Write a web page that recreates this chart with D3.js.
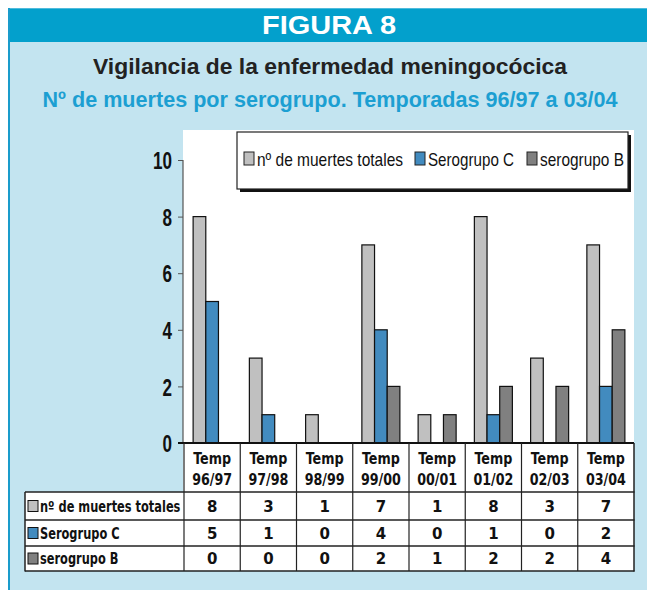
<!DOCTYPE html>
<html><head><meta charset="utf-8">
<script src="https://cdn.jsdelivr.net/npm/d3@7"></script>
<style>body{margin:0;background:#fff}</style></head>
<body><svg id="c" width="647" height="590"></svg>
<script>
const categories = ["Temp 96/97","Temp 97/98","Temp 98/99","Temp 99/00","Temp 00/01","Temp 01/02","Temp 02/03","Temp 03/04"];
const seriesNames = ["nº de muertes totales","Serogrupo C","serogrupo B"];
const totales = [8,3,1,7,1,8,3,7];
const serogrupoC = [5,1,0,4,0,1,0,2];
const serogrupoB = [0,0,0,2,1,2,2,4];
const yTicks = [0,2,4,6,8,10];
const colors = ["#c0c0c0","#428bbf","#808080"];
const seriesValues = [totales, serogrupoC, serogrupoB];

const svg = d3.select("#c");
const condensed = "'Liberation Sans',Arial,sans-serif";
const tableFont = "'DejaVu Sans',Verdana,sans-serif";

// Frame
svg.append("rect").attr("x",9).attr("y",8).attr("width",640).attr("height",590).attr("fill","#c3e4f0");
svg.append("rect").attr("x",9).attr("y",8).attr("width",640).attr("height",34).attr("fill","#03a0cc");
svg.append("line").attr("x1",9).attr("x2",647).attr("y1",8.5).attr("y2",8.5).attr("stroke","#4fbbdc").attr("stroke-width",1);
svg.append("line").attr("x1",9).attr("x2",9).attr("y1",8).attr("y2",590).attr("stroke","#1a9ccb").attr("stroke-width",2);

svg.append("text").attr("x",329).attr("y",34).attr("text-anchor","middle")
  .attr("font-family","'Liberation Sans',Arial,sans-serif").attr("font-weight","bold").attr("font-size",25)
  .attr("fill","#fff").attr("textLength",134).attr("lengthAdjust","spacingAndGlyphs").text("FIGURA 8");
svg.append("text").attr("x",330).attr("y",74).attr("text-anchor","middle")
  .attr("font-family",condensed).attr("font-weight","bold").attr("font-size",22)
  .attr("fill","#222").attr("textLength",474).attr("lengthAdjust","spacingAndGlyphs").text("Vigilancia de la enfermedad meningocócica");
svg.append("text").attr("x",330).attr("y",107).attr("text-anchor","middle")
  .attr("font-family",condensed).attr("font-weight","bold").attr("font-size",22)
  .attr("fill","#1c9fd2").attr("textLength",575).attr("lengthAdjust","spacingAndGlyphs").text("Nº de muertes por serogrupo. Temporadas 96/97 a 03/04");

// Scales
const x = d3.scaleBand().domain(categories).range([184,634]).paddingInner(0).paddingOuter(0);
const xs = d3.scaleBand().domain(seriesNames).range([0,x.bandwidth()]).paddingInner(0).paddingOuter(0.72);
const y = d3.scaleLinear().domain([0,10]).range([443,160]);

// White areas
svg.append("rect").attr("x",183).attr("y",130).attr("width",451).attr("height",362).attr("fill","#fff");
svg.append("rect").attr("x",25).attr("y",492).attr("width",609).attr("height",79).attr("fill","#fff");

// Bars
seriesNames.forEach((s,si)=>{
  svg.append("g").selectAll("rect").data(seriesValues[si].map((v,i)=>({v,c:categories[i]})).filter(d=>d.v>0))
    .join("rect")
    .attr("x",d=>x(d.c)+xs(s)).attr("width",xs.bandwidth())
    .attr("y",d=>y(d.v)).attr("height",d=>y(0)-y(d.v))
    .attr("fill",colors[si]).attr("stroke","#111").attr("stroke-width",1.2);
});

// Y axis
const ya = svg.append("g").attr("transform","translate(183,0)")
  .call(d3.axisLeft(y).tickValues(yTicks).tickSize(5).tickPadding(6));
ya.select(".domain").attr("stroke","#555").attr("stroke-width",1.2).attr("d","M-5,160.5H0V443");
ya.selectAll(".tick line").attr("stroke","#555");
ya.selectAll(".tick text").attr("font-family",condensed).attr("font-weight","bold").attr("font-size",24).attr("fill","#111").attr("dy","0.36em")
  .attr("textLength",d=>String(d).length*9.5).attr("lengthAdjust","spacingAndGlyphs");

// X axis line
svg.append("line").attr("x1",178).attr("x2",634).attr("y1",y(0)).attr("y2",y(0)).attr("stroke","#111").attr("stroke-width",2);

// Table
const rowY = [492,520,546,571];
const tbl = svg.append("g");
categories.forEach(c=>{
  tbl.append("line").attr("x1",x(c)).attr("x2",x(c)).attr("y1",443).attr("y2",571).attr("stroke","#222").attr("stroke-width",1.2);
});
tbl.append("line").attr("x1",634).attr("x2",634).attr("y1",443).attr("y2",571.5).attr("stroke","#222").attr("stroke-width",1.5);
tbl.append("line").attr("x1",25).attr("x2",25).attr("y1",492).attr("y2",571.5).attr("stroke","#222").attr("stroke-width",1.5);
rowY.forEach(ry=>{
  tbl.append("line").attr("x1",25).attr("x2",634.5).attr("y1",ry).attr("y2",ry).attr("stroke","#222").attr("stroke-width",1.5);
});
categories.forEach(c=>{
  const [a,b] = c.split(" ");
  const cx = x(c)+x.bandwidth()/2;
  tbl.append("text").attr("x",cx).attr("y",464).attr("text-anchor","middle")
    .attr("font-family",tableFont).attr("font-weight","bold").attr("font-size",15.5).attr("fill","#111")
    .attr("textLength",38).attr("lengthAdjust","spacingAndGlyphs").text(a);
  tbl.append("text").attr("x",cx).attr("y",485).attr("text-anchor","middle")
    .attr("font-family",tableFont).attr("font-weight","bold").attr("font-size",15.5).attr("fill","#111")
    .attr("textLength",40).attr("lengthAdjust","spacingAndGlyphs").text(b);
});
const labelScale = 0.76;
seriesNames.forEach((s,si)=>{
  const cy = (rowY[si]+rowY[si+1])/2;
  tbl.append("rect").attr("x",28).attr("y",cy-5.5).attr("width",10).attr("height",11)
    .attr("fill",colors[si]).attr("stroke","#111").attr("stroke-width",1);
  tbl.append("text").attr("transform",`translate(40,${cy+5.5}) scale(${labelScale},1)`)
    .attr("font-family",tableFont).attr("font-weight","bold")
    .attr("font-size",15).attr("fill","#111").text(s);
  seriesValues[si].forEach((v,i)=>{
    tbl.append("text").attr("x",x(categories[i])+x.bandwidth()/2).attr("y",cy+5.5).attr("text-anchor","middle")
      .attr("font-family",tableFont).attr("font-weight","bold").attr("font-size",15).attr("fill","#111").text(v);
  });
});

// Legend
const lg = svg.append("g");
lg.append("rect").attr("x",240).attr("y",135).attr("width",391).attr("height",57).attr("fill","#111");
lg.append("rect").attr("x",237).attr("y",132).attr("width",391).attr("height",57).attr("fill","#fff").attr("stroke","#222").attr("stroke-width",1.2);
const legendX = [244, 415, 527];
const legendLen = [146, 86, 84];
seriesNames.forEach((s,si)=>{
  lg.append("rect").attr("x",legendX[si]).attr("y",152).attr("width",10).attr("height",13)
    .attr("fill",colors[si]).attr("stroke","#222").attr("stroke-width",1);
  lg.append("text").attr("x",legendX[si]+13).attr("y",166).attr("font-family",condensed)
    .attr("font-size",19).attr("fill","#111").attr("textLength",legendLen[si]).attr("lengthAdjust","spacingAndGlyphs").text(s);
});
</script></body></html>
